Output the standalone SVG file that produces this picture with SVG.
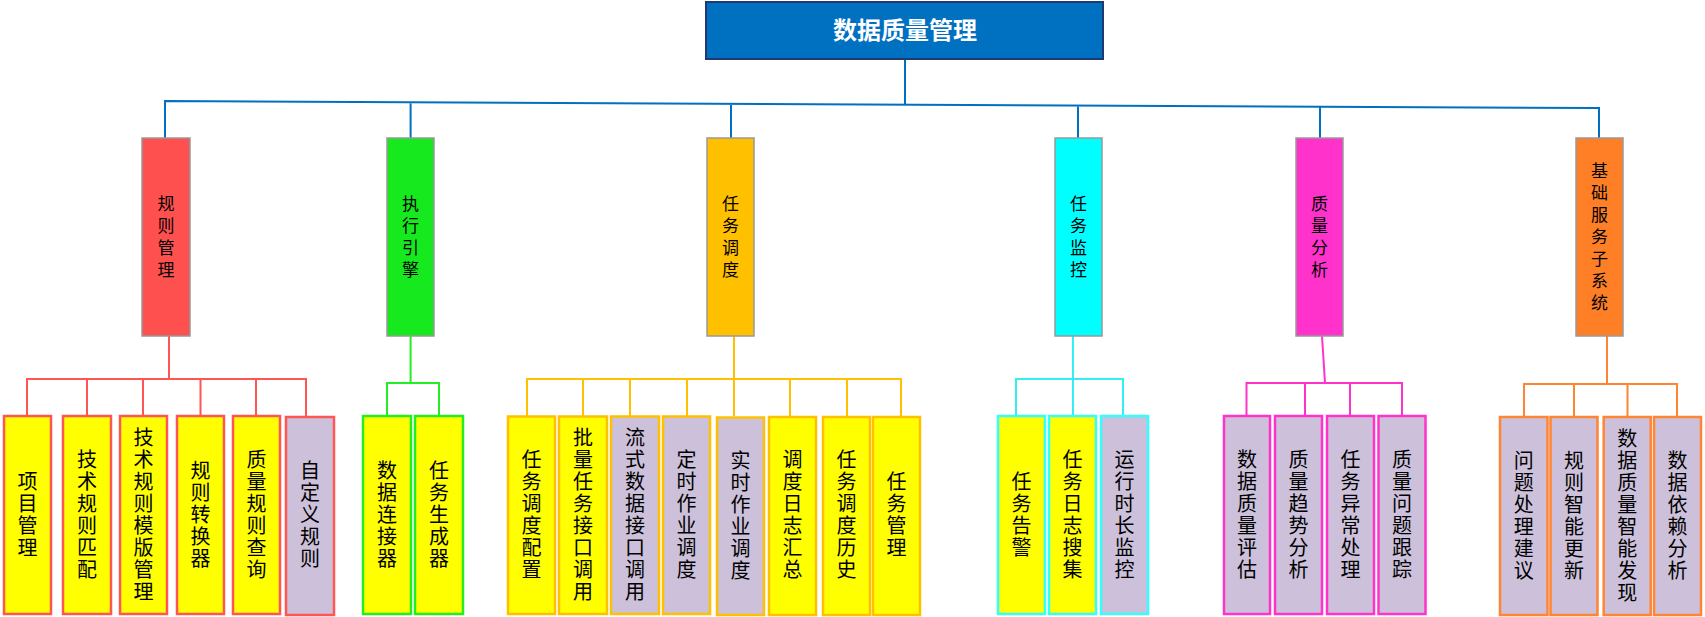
<svg xmlns="http://www.w3.org/2000/svg" width="1705" height="617" viewBox="0 0 1705 617">
<style>
.t1{font-family:"Noto Sans CJK SC","Noto Sans",sans-serif;font-size:17px;fill:#000;text-anchor:middle}
.t2{font-family:"Noto Sans CJK SC","Noto Sans",sans-serif;font-size:20px;fill:#000;text-anchor:middle}
.title{font-family:"Noto Sans CJK SC","Noto Sans",sans-serif;font-size:24px;font-weight:bold;fill:#fff;text-anchor:middle}
.l1{stroke:#999;stroke-width:1.5}
.c{fill:none;stroke-width:2}
.y{fill:#FFFF00}
.v{fill:#CCC0DA}
.sr{stroke:#FF5555;stroke-width:2.5}
.sg{stroke:#22EE22;stroke-width:2.5}
.so{stroke:#FFC000;stroke-width:2.5}
.sc{stroke:#33FFFF;stroke-width:2.5}
.sm{stroke:#FF33CC;stroke-width:2.5}
.sn{stroke:#FF8533;stroke-width:2.5}
</style>
<rect width="1705" height="617" fill="#fff"/>
<g id="connectors">
<path class="c" stroke="#0070C0" d="M905,59 V105 M165,138 V101 L1599,108 V138 M410.6,102.2 V138 M731,103.8 V138 M1078,105.5 V138 M1320,106.6 V138"/>
<path class="c" stroke="#FF5555" d="M169,336 V379 M27,416 V379 H306 V416 M87,379 V416 M143,379 V416 M200.5,379 V416 M256,379 V416"/>
<path class="c" stroke="#22EE22" d="M410.6,336 V383 M387,416 V383 H439 V416"/>
<path class="c" stroke="#FFC000" d="M734,336 V416 M527,416 V379 H901 V416 M583,379 V416 M630,379 V416 M687,379 V416 M790,379 V416 M847,379 V416"/>
<path class="c" stroke="#33F0F0" d="M1073,336 V416 M1016,416 V379 H1123 V416"/>
<path class="c" stroke="#FF33CC" d="M1322,336 L1325,383 M1246.5,416 V383 H1402 V416 M1305,383 V416 M1350,383 V416"/>
<path class="c" stroke="#FF8533" d="M1607,336 V384 M1524,417 V384 H1677 V417 M1574,384 V417 M1627.5,384 V417"/>
</g>
<g id="root">
<rect x="706" y="2" width="397" height="57" fill="#0070C0" stroke="#1F3A70" stroke-width="2"/>
<text class="title" x="905" y="39">数据质量管理</text>
</g>
<g id="n-rule">
<rect class="l1" x="142" y="138" width="48" height="198" fill="#FF5050"/>
<text class="t1" y="210"><tspan x="166">规</tspan><tspan x="166" dy="22">则</tspan><tspan x="166" dy="22">管</tspan><tspan x="166" dy="22">理</tspan></text>
</g>
<g id="n-engine">
<rect class="l1" x="387" y="138" width="47" height="198" fill="#16EA1E"/>
<text class="t1" y="210"><tspan x="410.5">执</tspan><tspan x="410.5" dy="22">行</tspan><tspan x="410.5" dy="22">引</tspan><tspan x="410.5" dy="22">擎</tspan></text>
</g>
<g id="n-sched">
<rect class="l1" x="707" y="138" width="47" height="198" fill="#FFC000"/>
<text class="t1" y="210"><tspan x="730.5">任</tspan><tspan x="730.5" dy="22">务</tspan><tspan x="730.5" dy="22">调</tspan><tspan x="730.5" dy="22">度</tspan></text>
</g>
<g id="n-monitor">
<rect class="l1" x="1055" y="138" width="47" height="198" fill="#00FFFF"/>
<text class="t1" y="210"><tspan x="1078.5">任</tspan><tspan x="1078.5" dy="22">务</tspan><tspan x="1078.5" dy="22">监</tspan><tspan x="1078.5" dy="22">控</tspan></text>
</g>
<g id="n-analysis">
<rect class="l1" x="1296" y="138" width="47" height="198" fill="#FF33CC"/>
<text class="t1" y="210"><tspan x="1319.5">质</tspan><tspan x="1319.5" dy="22">量</tspan><tspan x="1319.5" dy="22">分</tspan><tspan x="1319.5" dy="22">析</tspan></text>
</g>
<g id="n-base">
<rect class="l1" x="1576" y="138" width="47" height="198" fill="#FF7F27"/>
<text class="t1" y="177"><tspan x="1599.5">基</tspan><tspan x="1599.5" dy="22">础</tspan><tspan x="1599.5" dy="22">服</tspan><tspan x="1599.5" dy="22">务</tspan><tspan x="1599.5" dy="22">子</tspan><tspan x="1599.5" dy="22">系</tspan><tspan x="1599.5" dy="22">统</tspan></text>
</g>

<g id="r1"><rect class="y sr" x="4" y="416" width="47" height="198"/>
<text class="t2" y="489"><tspan x="27.5">项</tspan><tspan x="27.5" dy="22">目</tspan><tspan x="27.5" dy="22">管</tspan><tspan x="27.5" dy="22">理</tspan></text></g>
<g id="r2"><rect class="y sr" x="63" y="416" width="48" height="198"/>
<text class="t2" y="467"><tspan x="87">技</tspan><tspan x="87" dy="22">术</tspan><tspan x="87" dy="22">规</tspan><tspan x="87" dy="22">则</tspan><tspan x="87" dy="22">匹</tspan><tspan x="87" dy="22">配</tspan></text></g>
<g id="r3"><rect class="y sr" x="120" y="416" width="47" height="198"/>
<text class="t2" y="445"><tspan x="143.5">技</tspan><tspan x="143.5" dy="22">术</tspan><tspan x="143.5" dy="22">规</tspan><tspan x="143.5" dy="22">则</tspan><tspan x="143.5" dy="22">模</tspan><tspan x="143.5" dy="22">版</tspan><tspan x="143.5" dy="22">管</tspan><tspan x="143.5" dy="22">理</tspan></text></g>
<g id="r4"><rect class="y sr" x="177" y="416" width="47" height="198"/>
<text class="t2" y="478"><tspan x="200.5">规</tspan><tspan x="200.5" dy="22">则</tspan><tspan x="200.5" dy="22">转</tspan><tspan x="200.5" dy="22">换</tspan><tspan x="200.5" dy="22">器</tspan></text></g>
<g id="r5"><rect class="y sr" x="233" y="416" width="47" height="198"/>
<text class="t2" y="467"><tspan x="256.5">质</tspan><tspan x="256.5" dy="22">量</tspan><tspan x="256.5" dy="22">规</tspan><tspan x="256.5" dy="22">则</tspan><tspan x="256.5" dy="22">查</tspan><tspan x="256.5" dy="22">询</tspan></text></g>
<g id="r6"><rect class="v sr" x="286" y="417" width="48" height="198"/>
<text class="t2" y="478"><tspan x="310">自</tspan><tspan x="310" dy="22">定</tspan><tspan x="310" dy="22">义</tspan><tspan x="310" dy="22">规</tspan><tspan x="310" dy="22">则</tspan></text></g>

<g id="e1"><rect class="y sg" x="363" y="416" width="48" height="198"/>
<text class="t2" y="478"><tspan x="387">数</tspan><tspan x="387" dy="22">据</tspan><tspan x="387" dy="22">连</tspan><tspan x="387" dy="22">接</tspan><tspan x="387" dy="22">器</tspan></text></g>
<g id="e2"><rect class="y sg" x="415" y="416" width="48" height="198"/>
<text class="t2" y="478"><tspan x="439">任</tspan><tspan x="439" dy="22">务</tspan><tspan x="439" dy="22">生</tspan><tspan x="439" dy="22">成</tspan><tspan x="439" dy="22">器</tspan></text></g>

<g id="s1"><rect class="y so" x="508" y="416.5" width="47" height="197.5"/>
<text class="t2" y="467"><tspan x="531.5">任</tspan><tspan x="531.5" dy="22">务</tspan><tspan x="531.5" dy="22">调</tspan><tspan x="531.5" dy="22">度</tspan><tspan x="531.5" dy="22">配</tspan><tspan x="531.5" dy="22">置</tspan></text></g>
<g id="s2"><rect class="y so" x="559" y="416.5" width="48" height="197.5"/>
<text class="t2" y="445"><tspan x="583">批</tspan><tspan x="583" dy="22">量</tspan><tspan x="583" dy="22">任</tspan><tspan x="583" dy="22">务</tspan><tspan x="583" dy="22">接</tspan><tspan x="583" dy="22">口</tspan><tspan x="583" dy="22">调</tspan><tspan x="583" dy="22">用</tspan></text></g>
<g id="s3"><rect class="v so" x="611" y="416.5" width="48" height="197.5"/>
<text class="t2" y="445"><tspan x="635">流</tspan><tspan x="635" dy="22">式</tspan><tspan x="635" dy="22">数</tspan><tspan x="635" dy="22">据</tspan><tspan x="635" dy="22">接</tspan><tspan x="635" dy="22">口</tspan><tspan x="635" dy="22">调</tspan><tspan x="635" dy="22">用</tspan></text></g>
<g id="s4"><rect class="v so" x="663" y="416.5" width="47" height="197.5"/>
<text class="t2" y="467"><tspan x="686.5">定</tspan><tspan x="686.5" dy="22">时</tspan><tspan x="686.5" dy="22">作</tspan><tspan x="686.5" dy="22">业</tspan><tspan x="686.5" dy="22">调</tspan><tspan x="686.5" dy="22">度</tspan></text></g>
<g id="s5"><rect class="v so" x="717" y="417.5" width="47" height="197.5"/>
<text class="t2" y="468"><tspan x="740.5">实</tspan><tspan x="740.5" dy="22">时</tspan><tspan x="740.5" dy="22">作</tspan><tspan x="740.5" dy="22">业</tspan><tspan x="740.5" dy="22">调</tspan><tspan x="740.5" dy="22">度</tspan></text></g>
<g id="s6"><rect class="y so" x="769" y="417" width="47" height="198"/>
<text class="t2" y="467"><tspan x="792.5">调</tspan><tspan x="792.5" dy="22">度</tspan><tspan x="792.5" dy="22">日</tspan><tspan x="792.5" dy="22">志</tspan><tspan x="792.5" dy="22">汇</tspan><tspan x="792.5" dy="22">总</tspan></text></g>
<g id="s7"><rect class="y so" x="823" y="417" width="47" height="198"/>
<text class="t2" y="467"><tspan x="846.5">任</tspan><tspan x="846.5" dy="22">务</tspan><tspan x="846.5" dy="22">调</tspan><tspan x="846.5" dy="22">度</tspan><tspan x="846.5" dy="22">历</tspan><tspan x="846.5" dy="22">史</tspan></text></g>
<g id="s8"><rect class="y so" x="873" y="417" width="47" height="198"/>
<text class="t2" y="489"><tspan x="896.5">任</tspan><tspan x="896.5" dy="22">务</tspan><tspan x="896.5" dy="22">管</tspan><tspan x="896.5" dy="22">理</tspan></text></g>

<g id="m1"><rect class="y sc" x="998" y="416" width="47" height="198"/>
<text class="t2" y="489"><tspan x="1021.5">任</tspan><tspan x="1021.5" dy="22">务</tspan><tspan x="1021.5" dy="22">告</tspan><tspan x="1021.5" dy="22">警</tspan></text></g>
<g id="m2"><rect class="y sc" x="1049" y="416" width="47" height="198"/>
<text class="t2" y="467"><tspan x="1072.5">任</tspan><tspan x="1072.5" dy="22">务</tspan><tspan x="1072.5" dy="22">日</tspan><tspan x="1072.5" dy="22">志</tspan><tspan x="1072.5" dy="22">搜</tspan><tspan x="1072.5" dy="22">集</tspan></text></g>
<g id="m3"><rect class="v sc" x="1101" y="416" width="47" height="198"/>
<text class="t2" y="467"><tspan x="1124.5">运</tspan><tspan x="1124.5" dy="22">行</tspan><tspan x="1124.5" dy="22">时</tspan><tspan x="1124.5" dy="22">长</tspan><tspan x="1124.5" dy="22">监</tspan><tspan x="1124.5" dy="22">控</tspan></text></g>

<g id="a1"><rect class="v sm" x="1224" y="416" width="46" height="198"/>
<text class="t2" y="467"><tspan x="1247">数</tspan><tspan x="1247" dy="22">据</tspan><tspan x="1247" dy="22">质</tspan><tspan x="1247" dy="22">量</tspan><tspan x="1247" dy="22">评</tspan><tspan x="1247" dy="22">估</tspan></text></g>
<g id="a2"><rect class="v sm" x="1275" y="416" width="47" height="198"/>
<text class="t2" y="467"><tspan x="1298.5">质</tspan><tspan x="1298.5" dy="22">量</tspan><tspan x="1298.5" dy="22">趋</tspan><tspan x="1298.5" dy="22">势</tspan><tspan x="1298.5" dy="22">分</tspan><tspan x="1298.5" dy="22">析</tspan></text></g>
<g id="a3"><rect class="v sm" x="1327" y="416" width="47" height="198"/>
<text class="t2" y="467"><tspan x="1350.5">任</tspan><tspan x="1350.5" dy="22">务</tspan><tspan x="1350.5" dy="22">异</tspan><tspan x="1350.5" dy="22">常</tspan><tspan x="1350.5" dy="22">处</tspan><tspan x="1350.5" dy="22">理</tspan></text></g>
<g id="a4"><rect class="v sm" x="1378.5" y="416" width="47" height="198"/>
<text class="t2" y="467"><tspan x="1402">质</tspan><tspan x="1402" dy="22">量</tspan><tspan x="1402" dy="22">问</tspan><tspan x="1402" dy="22">题</tspan><tspan x="1402" dy="22">跟</tspan><tspan x="1402" dy="22">踪</tspan></text></g>

<g id="b1"><rect class="v sn" x="1500" y="417" width="47.5" height="198"/>
<text class="t2" y="468"><tspan x="1523.8">问</tspan><tspan x="1523.8" dy="22">题</tspan><tspan x="1523.8" dy="22">处</tspan><tspan x="1523.8" dy="22">理</tspan><tspan x="1523.8" dy="22">建</tspan><tspan x="1523.8" dy="22">议</tspan></text></g>
<g id="b2"><rect class="v sn" x="1550.5" y="417" width="47" height="198"/>
<text class="t2" y="468"><tspan x="1574">规</tspan><tspan x="1574" dy="22">则</tspan><tspan x="1574" dy="22">智</tspan><tspan x="1574" dy="22">能</tspan><tspan x="1574" dy="22">更</tspan><tspan x="1574" dy="22">新</tspan></text></g>
<g id="b3"><rect class="v sn" x="1603.7" y="417" width="47" height="198"/>
<text class="t2" y="446"><tspan x="1627.2">数</tspan><tspan x="1627.2" dy="22">据</tspan><tspan x="1627.2" dy="22">质</tspan><tspan x="1627.2" dy="22">量</tspan><tspan x="1627.2" dy="22">智</tspan><tspan x="1627.2" dy="22">能</tspan><tspan x="1627.2" dy="22">发</tspan><tspan x="1627.2" dy="22">现</tspan></text></g>
<g id="b4"><rect class="v sn" x="1654" y="417" width="47" height="198"/>
<text class="t2" y="468"><tspan x="1677.5">数</tspan><tspan x="1677.5" dy="22">据</tspan><tspan x="1677.5" dy="22">依</tspan><tspan x="1677.5" dy="22">赖</tspan><tspan x="1677.5" dy="22">分</tspan><tspan x="1677.5" dy="22">析</tspan></text></g>
</svg>
